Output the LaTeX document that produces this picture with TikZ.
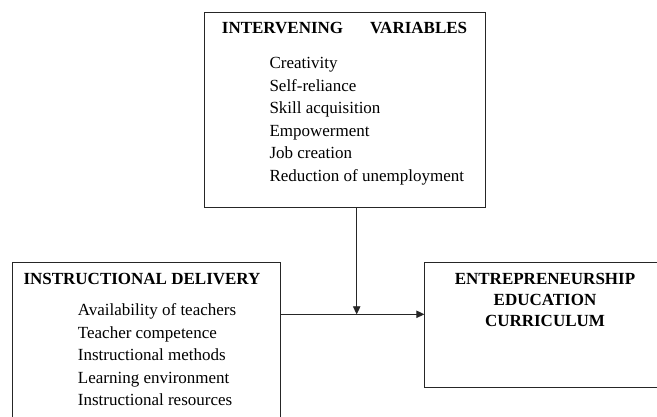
\documentclass[tikz,border=0pt]{standalone}
\usepackage{fontspec}
\setmainfont{Liberation Serif}
\usetikzlibrary{positioning, calc, arrows.meta}

\tikzset{
  frame/.style = {draw=black!85, line width=0.9pt, rectangle, anchor=north west, inner sep=0pt, outer sep=0pt},
  head/.style = {inner sep=0pt, font=\fontsize{17}{21}\selectfont\bfseries},
  item/.style = {anchor=base west, inner sep=0pt, font=\fontsize{17}{22.5}\selectfont},
  link/.style = {draw=black!85, line width=0.9pt, -{Triangle[length=8pt,width=7.5pt]}}
}

\begin{document}
\begin{tikzpicture}[x=1pt,y=-1pt]
  \useasboundingbox (0,0) rectangle (657,417);
  \clip (0,0) rectangle (657,417);

  % the three boxes (two of them run off the page)
  \node[frame, minimum width=281.2pt, minimum height=195pt] (inter) at (204.5,12.3) {};
  \node[frame, minimum width=267.3pt, minimum height=180pt] (instr) at (12.7,262.3) {};
  \node[frame, minimum width=260pt, minimum height=125.4pt] (curr) at (424.3,262.3) {};

  % intervening variables
  \node[head, anchor=base west] (inter-title) at (221.7,34) {INTERVENING\hspace{27pt}VARIABLES};
  \foreach \txt [count=\i] in {Creativity, Self-reliance, Skill acquisition,
      Empowerment, Job creation, Reduction of unemployment}
    \node[item] (inter-\i) at (269.3,{46.5+22.5*\i}) {\txt};

  % instructional delivery
  \node[head, anchor=base west] (instr-title) at (23.3,284) {INSTRUCTIONAL DELIVERY};
  \foreach \txt [count=\i] in {Availability of teachers, Teacher competence,
      Instructional methods, Learning environment, Instructional resources}
    \node[item] (instr-\i) at (77.7,{293.2+22.5*\i}) {\txt};

  % curriculum
  \foreach \txt [count=\i] in {ENTREPRENEURSHIP, EDUCATION, CURRICULUM}
    \node[head, anchor=base] (curr-\i) at (545,{262.7+21.3*\i}) {\txt};

  % arrows
  \coordinate (join) at (356.7,314.3);
  \draw[link] (inter.south -| join) -- (join);
  \draw[link] (instr.east |- join) -- (curr.west |- join);
\end{tikzpicture}
\end{document}
